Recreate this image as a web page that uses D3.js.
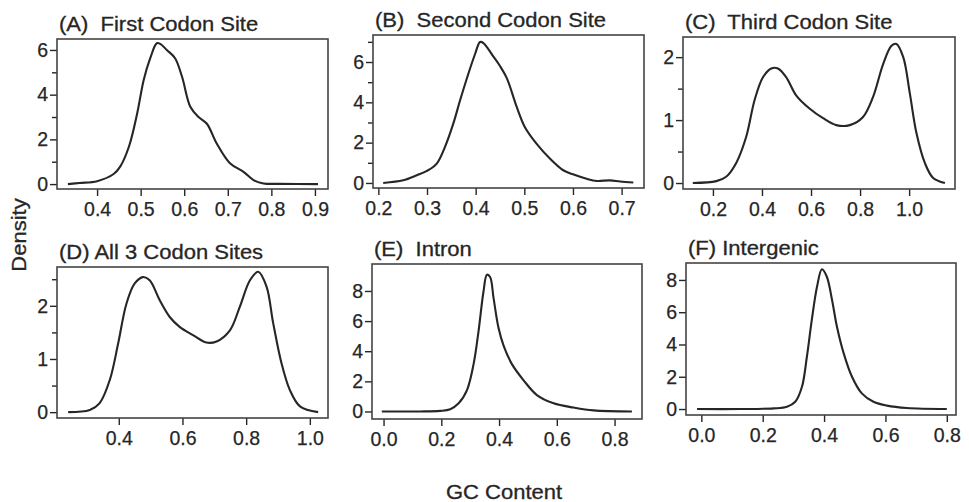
<!doctype html>
<html>
  <head>
    <meta charset="utf-8" />
    <title>GC content densities</title>
    <script type="text/javascript" src="https://cdnjs.cloudflare.com/ajax/libs/d3/7.8.5/d3.min.js"></script>
    <style>
      body {
        margin:0;
        background:#fff;
        font-family:"Liberation Sans", Arial, sans-serif;
      }
      svg {
        display:block;
      }
    </style>
  </head>
  <body>
    <div id="chart"></div>
    <script type="text/javascript">

/*density curves: GC content (x) and density (y)*/
var firstGC      = [0.333, 0.36, 0.40, 0.438, 0.453, 0.473, 0.492, 0.507, 0.522, 0.537, 0.545, 0.56, 0.579, 0.595, 0.614, 0.633, 0.652, 0.675, 0.705, 0.736, 0.759, 0.782, 0.82, 0.907];
var firstDensity = [0, 0.05, 0.13, 0.45, 0.78, 1.67, 3.16, 4.66, 5.63, 6.3, 6.27, 6.0, 5.63, 4.8, 3.46, 3.0, 2.7, 1.8, 0.93, 0.55, 0.18, 0.03, 0.01, 0];

var secondGC      = [0.21, 0.251, 0.279, 0.30, 0.32, 0.337, 0.354, 0.368, 0.385, 0.399, 0.409, 0.416, 0.437, 0.45, 0.464, 0.484, 0.501, 0.525, 0.553, 0.58, 0.60, 0.628, 0.649, 0.676, 0.697, 0.724];
var secondDensity = [0, 0.13, 0.38, 0.6, 0.96, 1.79, 2.94, 4.1, 5.42, 6.41, 6.99, 6.94, 6.25, 5.8, 5.2, 3.8, 2.78, 1.95, 1.2, 0.63, 0.43, 0.21, 0.1, 0.13, 0.07, 0.02];

var thirdGC      = [0.118, 0.214, 0.254, 0.295, 0.336, 0.37, 0.404, 0.438, 0.465, 0.499, 0.54, 0.595, 0.649, 0.703, 0.758, 0.812, 0.853, 0.894, 0.928, 0.948, 0.976, 1.003, 1.03, 1.064, 1.098, 1.146];
var thirdDensity = [0, 0.03, 0.1, 0.32, 0.74, 1.32, 1.68, 1.82, 1.82, 1.68, 1.39, 1.18, 1.03, 0.92, 0.92, 1.05, 1.37, 1.89, 2.18, 2.21, 2.0, 1.42, 0.79, 0.32, 0.08, 0];

var allGC      = [0.241, 0.309, 0.34, 0.372, 0.398, 0.424, 0.45, 0.476, 0.497, 0.529, 0.56, 0.592, 0.633, 0.675, 0.707, 0.749, 0.78, 0.812, 0.838, 0.864, 0.885, 0.911, 0.937, 0.969, 1.026];
var allDensity = [0, 0.04, 0.17, 0.61, 1.29, 2.04, 2.42, 2.54, 2.48, 2.1, 1.79, 1.6, 1.45, 1.31, 1.33, 1.54, 1.98, 2.48, 2.64, 2.36, 1.67, 0.92, 0.42, 0.11, 0];

var intronGC      = [-0.006, 0.127, 0.196, 0.231, 0.26, 0.289, 0.312, 0.329, 0.346, 0.358, 0.369, 0.381, 0.398, 0.416, 0.444, 0.485, 0.531, 0.589, 0.658, 0.727, 0.86];
var intronDensity = [0, 0, 0.04, 0.15, 0.54, 1.42, 3.16, 5.34, 7.95, 9.08, 8.93, 7.52, 5.56, 4.36, 3.16, 2.07, 1.09, 0.54, 0.26, 0.07, 0];

var interGC      = [-0.014, 0.127, 0.236, 0.279, 0.306, 0.328, 0.344, 0.36, 0.377, 0.393, 0.409, 0.426, 0.442, 0.464, 0.491, 0.523, 0.561, 0.605, 0.67, 0.8];
var interDensity = [0, 0, 0.04, 0.14, 0.45, 1.38, 3.24, 5.52, 7.58, 8.66, 8.2, 6.76, 5.1, 3.45, 2.0, 0.97, 0.45, 0.21, 0.06, 0];

/*panel titles and tick labels*/
var titles = ["(A)  First Codon Site", "(B)  Second Codon Site", "(C)  Third Codon Site",
              "(D) All 3 Codon Sites", "(E)  Intron", "(F) Intergenic"];
var xTicks = [
  [0.4, 0.5, 0.6, 0.7, 0.8, 0.9],
  [0.2, 0.3, 0.4, 0.5, 0.6, 0.7],
  [0.2, 0.4, 0.6, 0.8, 1.0],
  [0.4, 0.6, 0.8, 1.0],
  [0.0, 0.2, 0.4, 0.6, 0.8],
  [0.0, 0.2, 0.4, 0.6, 0.8]
];
var yTicks = [[0, 2, 4, 6], [0, 2, 4, 6], [0, 1, 2], [0, 1, 2], [0, 2, 4, 6, 8], [0, 2, 4, 6, 8]];
var yMinor = [[1, 3, 5], [1, 3, 5, 7], [0.5, 1.5], [0.5, 1.5, 2.5], [], []];

/*layout of each panel box in pixels and its axis extents*/
var panels = [
  {x: firstGC,  y: firstDensity,  box: [57, 39, 328, 189],  xd: [0.308, 0.930],  yd: [-0.22, 6.49]},
  {x: secondGC, y: secondDensity, box: [373, 35, 644, 188], xd: [0.189, 0.746],  yd: [-0.25, 7.34]},
  {x: thirdGC,  y: thirdDensity,  box: [683, 37, 955, 189], xd: [0.078, 1.187],  yd: [-0.095, 2.32]},
  {x: allGC,    y: allDensity,    box: [57, 267, 328, 418], xd: [0.206, 1.057],  yd: [-0.11, 2.73]},
  {x: intronGC, y: intronDensity, box: [372, 264, 642, 419], xd: [-0.04, 0.895], yd: [-0.5, 9.79]},
  {x: interGC,  y: interDensity,  box: [686, 263, 956, 415], xd: [-0.05, 0.83],  yd: [-0.37, 9.05]}
];

var W = 969, H = 502;
var ink = "#262626";

function main() {
  var svg = d3.select("#chart").append("svg")
    .attr("width", W)
    .attr("height", H);

  panels.forEach(function(p, i) {
    draw_panel(svg, p, i);
  });

  /*shared axis titles*/
  svg.append("text")
    .attr("transform", "translate(26,235) rotate(-90) scale(1.1,1)")
    .attr("text-anchor", "middle")
    .attr("font-size", 20)
    .attr("fill", ink)
    .attr("stroke", ink)
    .attr("stroke-width", 0.3)
    .text("Density");

  svg.append("text")
    .attr("transform", "translate(504,499) scale(1.1,1)")
    .attr("text-anchor", "middle")
    .attr("font-size", 20)
    .attr("fill", ink)
    .attr("stroke", ink)
    .attr("stroke-width", 0.3)
    .text("GC Content");
}

function draw_panel(svg, p, i) {
  var b = p.box;
  var x = d3.scaleLinear().domain(p.xd).range([b[0], b[2]]);
  var y = d3.scaleLinear().domain(p.yd).range([b[3], b[1]]);

  var g = svg.append("g");

  /*x axis under the box*/
  var xa = g.append("g")
    .attr("transform", "translate(0," + b[3] + ")")
    .call(d3.axisBottom(x).tickValues(xTicks[i]).tickFormat(d3.format(".1f")).tickSize(7).tickPadding(6));

  /*y axis, major then minor ticks*/
  var ya = g.append("g")
    .attr("transform", "translate(" + b[0] + ",0)")
    .call(d3.axisLeft(y).tickValues(yTicks[i]).tickFormat(d3.format("d")).tickSize(7).tickPadding(2));
  var ym = g.append("g")
    .attr("transform", "translate(" + b[0] + ",0)")
    .call(d3.axisLeft(y).tickValues(yMinor[i]).tickFormat("").tickSize(5));

  [xa, ya, ym].forEach(function(a) {
    a.select(".domain").remove();
    a.selectAll("line").attr("stroke", ink).attr("stroke-width", 1.4);
    a.selectAll("text")
      .attr("font-family", "Liberation Sans, Arial, sans-serif")
      .attr("font-size", 19.5)
      .attr("fill", ink)
      .attr("stroke", ink)
      .attr("stroke-width", 0.25);
  });

  /*frame round the plot*/
  g.append("rect")
    .attr("x", b[0])
    .attr("y", b[1])
    .attr("width", b[2] - b[0])
    .attr("height", b[3] - b[1])
    .attr("fill", "none")
    .attr("stroke", "#444")
    .attr("stroke-width", 1.6);

  /*density curve*/
  var pts = p.x.map(function(v, k) { return [v, p.y[k]]; });
  var line = d3.line()
    .x(function(d) { return x(d[0]); })
    .y(function(d) { return y(d[1]); })
    .curve(d3.curveCatmullRom.alpha(0.5));

  g.append("path")
    .datum(pts)
    .attr("d", line)
    .attr("fill", "none")
    .attr("stroke", ink)
    .attr("stroke-width", 2.1)
    .attr("stroke-linejoin", "round");

  /*panel title above the box*/
  g.append("text")
    .attr("transform", "translate(" + (b[0] + 2) + "," + (b[1] - 8) + ") scale(1.1,1)")
    .attr("font-size", 20)
    .attr("fill", ink)
    .attr("stroke", ink)
    .attr("stroke-width", 0.3)
    .style("white-space", "pre")
    .text(titles[i]);
}

document.addEventListener("DOMContentLoaded", main);

    </script>
  </body>
</html>
